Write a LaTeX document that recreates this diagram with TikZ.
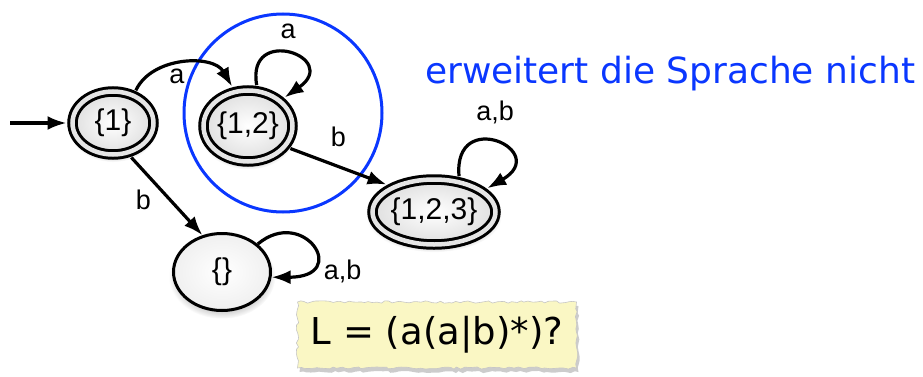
\documentclass[tikz,border=0pt]{standalone}
\usepackage{fontspec}
\setmainfont{Liberation Sans}
\newfontfamily\dejavu{DejaVu Sans}
\usetikzlibrary{arrows.meta, shapes.geometric, shadows, decorations.pathmorphing}
\definecolor{hullblue}{RGB}{10,55,255}
\definecolor{notepaper}{RGB}{250,247,196}

\begin{document}
\begin{tikzpicture}[
    x=1pt, y=1pt,
    state/.style={ellipse, draw, line width=3pt, inner sep=0pt,
                  inner color=white, outer color=gray!25,
                  circular drop shadow={shadow xshift=0pt, shadow yshift=-4pt, opacity=0.3},
                  font=\fontsize{30}{33}\selectfont},
    final/.style={state, double=gray!20, double distance=4.5pt, outer sep=6pt},
    lbl/.style={font=\fontsize{27}{29}\selectfont, inner sep=2pt},
    flow/.style={-{Latex[length=19pt, width=14pt]}, line width=3.2pt},
]
\useasboundingbox (0,0) rectangle (923,376);

% states
\node[final, minimum width=81, minimum height=63] (s1) at (113,253) {\{1\}};
\node[final, minimum width=89, minimum height=71] (s12) at (248,250) {\{1,2\}};
\node[final, minimum width=123, minimum height=65] (s123) at (434,164) {\{1,2,3\}};
\node[state, outer color=gray!12, minimum width=97, minimum height=77] (sempty) at (222,104) {\{\}};

% highlighted part
\node[circle, draw=hullblue, line width=3pt, minimum size=198, inner sep=0pt] (hull) at (283,263) {};
\node[anchor=base west, inner sep=0pt, text=hullblue,
      font=\dejavu\fontsize{36}{40}\selectfont] (note) at (425,293) {erweitert die Sprache nicht};

% transitions
\coordinate (start) at (10,253);
\draw[flow] (start) -- (s1.west);
\draw[flow] (s1.55) to[out=65, in=120] node[lbl, pos=0.45, below=1pt] {a} (s12.112);
\draw[flow] (s12.78) .. controls +(100:62) and +(35:70) .. node[lbl, above=11pt] {a} (s12.38);
\draw[flow] (s12.-28) -- node[lbl, pos=0.5, above=16pt] {b} (s123.150);
\draw[flow] (s123.55) .. controls +(95:70) and +(30:75) .. node[lbl, above=15pt] {a,b} (s123.24);
\draw[flow] (s1.-62) -- node[lbl, pos=0.55, left=16pt] {b} (sempty.118);
\draw[flow] (sempty.38) .. controls +(40:60) and +(0:80) .. node[lbl, pos=0.74, right=10pt, yshift=-6pt] {a,b} (sempty.-6);

% language
\node[draw=gray!45, fill=notepaper, line width=0.6pt,
      decorate, decoration={random steps, segment length=4pt, amplitude=1.2pt},
      drop shadow={shadow xshift=2pt, shadow yshift=-4pt, opacity=0.4},
      minimum width=279, minimum height=66, inner sep=0pt,
      font=\dejavu\fontsize{37}{40}\selectfont] (lang) at (437,41) {L = (a(a|b)*)?};
\end{tikzpicture}
\end{document}
